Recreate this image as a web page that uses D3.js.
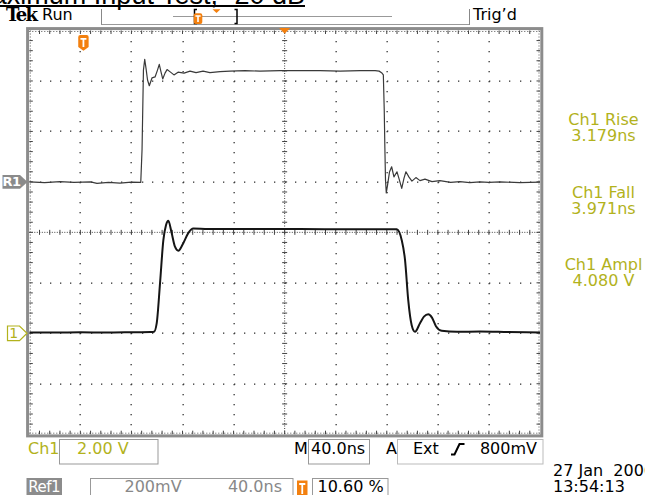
<!DOCTYPE html>
<html><head><meta charset="utf-8">
<script src="https://cdn.jsdelivr.net/npm/d3@7"></script>
<style>
html,body{margin:0;padding:0;background:#fff;overflow:hidden}
svg{display:block;font-family:"DejaVu Sans",sans-serif}
</style></head><body>
<svg id="c" width="645" height="495"></svg>
<script>
// ---- data ----
const ch1Time = [-200,-180,-160,-140,-120,-105,-102.3,-100.2,-97.6,-95.0,-92.9,-91.1,-88.5,-85.9,-83.3,-79.4,-75.5,-71.5,-60,-27.1,12.0,51.2,80,87.8,91.7,94.3,96.8,99.5,102.1,106.0,109.1,112.5,115.4,118.5,123.0,135,153,175,200];
const ch1Volts = [0.03,0.03,0.04,0.03,0.04,0.05,0.06,0.40,1.99,3.69,4.29,4.46,3.97,3.43,3.27,3.57,3.97,4.15,4.13,4.13,4.13,4.12,4.12,4.12,3.69,2.90,1.31,0.32,0.06,0.40,0.66,0.75,0.62,0.28,0.10,0.06,0.07,0.05,0.03];
const ref1Time = [-200,-188,-176,-165,-152,-147,-138,-129,-120,-112.7,
  -111.7,-110.6,-109.6,-108.6,-107.4,-106.0,-103.9,-101.5,-99.6,-98.2,
  -96.8,-95.5,-93.7,-92.1,-89.4,-86.7,-83.5,-78.8,-74.1,-69.4,
  -63.9,-58.5,-50.6,-42.8,-31.1,-19.3,-3.6,12.0,27.7,43.4,
  59.2,70.9,74.0,75.9,77.3,78.0,78.5,79.0,79.6,80.6,
  82.1,83.8,85.6,88.0,89.9,91.7,93.5,95.0,97.4,99.7,
  102.8,106.0,109.9,115.4,121.6,130,137.3,145,153.0,160,
  168.7,184.3,200];
const ref1mV = [0,-3,1,-2,0,-6,-2,-5,-1,-2,
  126,443,486,451,404,381,412,416,443,466,
  435,408,431,445,435,424,435,431,439,433,
  439,433,437,439,441,439,441,441,441,439,
  441,441,439,433,424,285,134,7,-44,-13,
  39,60,20,40,7,-26,15,40,19,3,
  17,5,11,1,5,-2,1,-3,0,-2,
  0,-3,-1];
const measLabels = ["Ch1 Rise","Ch1 Fall","Ch1 Ampl"];
const measValues = ["3.179ns","3.971ns","4.080 V"];
const nsPerDiv = 40;
const ch1VoltsPerDiv = 2, ch1OffsetDiv = -2;
const ref1mVPerDiv = 200, ref1OffsetDiv = 1;
const trigPercent = 10.60;
const ch1ScaleLabel = "2.00 V", timebaseLabel = "40.0ns", trigSource = "Ext", trigLevel = "800mV";
const ref1ScaleLabel = "200mV", ref1TimeLabel = "40.0ns", trigPosLabel = "10.60 %";
const dateLabel = "27 Jan  2006", timeLabel = "13:54:13";
const titleText = "Maximum Input Test, -20 dB";

// ---- setup ----
const svg = d3.select("#c");
const OLIVE = "#b2b21c", ORANGE = "#f3800f", GRAYF = "#8c8c8c";
const xDiv = d3.scaleLinear().domain([-5,5]).range([29.3,540]);
const yDiv = d3.scaleLinear().domain([-4,4]).range([434.2,30.5]);
const xT = t => xDiv(t/nsPerDiv);
const yCh1 = v => yDiv(v/ch1VoltsPerDiv + ch1OffsetDiv);
const yRef = mv => yDiv(mv/ref1mVPerDiv + ref1OffsetDiv);

// title (cut at top)
svg.append("text").attr("x",305).attr("y",4).attr("text-anchor","end")
  .style("font-family","'Liberation Sans',Arial,sans-serif").style("font-size","27px").text(titleText);
svg.append("line").attr("x1",0).attr("x2",305).attr("y1",6).attr("y2",6).attr("stroke","#000").attr("stroke-width",2);

// header
svg.append("text").attr("x",6).attr("y",21).style("font-family","'DejaVu Serif',serif").style("font-weight","bold")
  .style("font-size","18px").style("letter-spacing","-1.6px").text("Tek");
svg.append("text").attr("x",42).attr("y",20).style("font-size","16px").text("Run");
svg.append("line").attr("x1",101.5).attr("x2",101.5).attr("y1",9).attr("y2",25).attr("stroke","#888");
svg.append("line").attr("x1",101.5).attr("x2",469.5).attr("y1",24.5).attr("y2",24.5).attr("stroke","#999");
svg.append("line").attr("x1",469.5).attr("x2",469.5).attr("y1",9).attr("y2",25).attr("stroke","#888");
svg.append("text").attr("x",473).attr("y",20).style("font-size","16px").text("Trig\u2019d");
// record indicator
svg.append("line").attr("x1",173).attr("x2",392).attr("y1",16.5).attr("y2",16.5).attr("stroke","#999");
const recX = d3.scaleLinear().domain([0,100]).range([175,392]);
svg.append("path").attr("d","M197,9.5H194.5V23.5H197").attr("fill","none").attr("stroke","#000").attr("stroke-width",1.5);
svg.append("path").attr("d","M234.5,9.5H237V23.5H234.5").attr("fill","none").attr("stroke","#000").attr("stroke-width",1.5);
const tx = recX(trigPercent);
svg.append("rect").attr("x",tx-4.3).attr("y",13.3).attr("width",8.6).attr("height",10.7).attr("rx",2).attr("fill",ORANGE);
svg.append("path").attr("d",`M${tx-2.6},16H${tx+2.6}M${tx},16V22`).attr("stroke","#fff").attr("stroke-width",1.6);
svg.append("path").attr("d","M212.5,9.3H220.5L216.5,13Z").attr("fill",ORANGE);

// frame
svg.append("rect").attr("x",27.6).attr("y",28.6).attr("width",541.8-27.6).attr("height",435.9-28.6)
  .attr("fill","none").attr("stroke",GRAYF).attr("stroke-width",3);

const g = svg.append("g");
// grid dots
[-4,-3,-2,-1,1,2,3,4].forEach(i=>{
  d3.range(-19,20).forEach(j=>{
    g.append("rect").attr("x",Math.round(xDiv(i))-0.5).attr("y",Math.round(yDiv(j/5))).attr("width",1.3).attr("height",1.3).attr("fill","#333");
  });
});
[-3,-2,-1,1,2,3].forEach(j=>{
  d3.range(-24,25).forEach(i=>{
    g.append("rect").attr("x",Math.round(xDiv(i/5))).attr("y",Math.round(yDiv(j))-0.5).attr("width",1.3).attr("height",1.3).attr("fill","#333");
  });
});
// center crosshair
const cx = xDiv(0), cy = yDiv(0);
g.append("line").attr("x1",cx).attr("x2",cx).attr("y1",yDiv(4)).attr("y2",yDiv(-4)).attr("stroke","#444").attr("stroke-dasharray","1,1.5");
g.append("line").attr("y1",cy).attr("y2",cy).attr("x1",xDiv(-5)).attr("x2",xDiv(5)).attr("stroke","#444").attr("stroke-dasharray","1,1.5");
d3.range(-19,20).forEach(j=>{
  const y = yDiv(j/5);
  g.append("line").attr("x1",cx-2.5).attr("x2",cx+2.5).attr("y1",y).attr("y2",y).attr("stroke","#444");
});
d3.range(-24,25).forEach(i=>{
  const x = xDiv(i/5);
  g.append("line").attr("y1",cy-2.5).attr("y2",cy+2.5).attr("x1",x).attr("x2",x).attr("stroke","#444");
});
// edge ticks
const x0 = xDiv(-5), x1 = xDiv(5), y0 = yDiv(4), y1 = yDiv(-4);
g.append("line").attr("x1",x0).attr("x2",x1).attr("y1",y0+1).attr("y2",y0+1).attr("stroke","#555").attr("stroke-dasharray","1,2");
g.append("line").attr("x1",x0).attr("x2",x1).attr("y1",y1-1).attr("y2",y1-1).attr("stroke","#555").attr("stroke-dasharray","1,2");
g.append("line").attr("x1",x0+1).attr("x2",x0+1).attr("y1",y0).attr("y2",y1).attr("stroke","#555").attr("stroke-dasharray","1,2");
g.append("line").attr("x1",x1-1).attr("x2",x1-1).attr("y1",y0).attr("y2",y1).attr("stroke","#555").attr("stroke-dasharray","1,2");
d3.range(-24,25).forEach(i=>{
  const x = xDiv(i/5);
  g.append("line").attr("x1",x).attr("x2",x).attr("y1",y0).attr("y2",y0+3.5).attr("stroke","#444");
  g.append("line").attr("x1",x).attr("x2",x).attr("y1",y1-3.5).attr("y2",y1).attr("stroke","#444");
});
d3.range(-19,20).forEach(j=>{
  const y = yDiv(j/5);
  g.append("line").attr("x1",x0).attr("x2",x0+3.5).attr("y1",y).attr("y2",y).attr("stroke","#444");
  g.append("line").attr("x1",x1-3.5).attr("x2",x1).attr("y1",y).attr("y2",y).attr("stroke","#444");
});

// traces
svg.append("clipPath").attr("id","clip").append("rect").attr("x",x0).attr("y",y0).attr("width",x1-x0).attr("height",y1-y0);
const refLine = d3.line().x((d,i)=>xT(ref1Time[i])).y(d=>yRef(d)).curve(d3.curveLinear);
svg.append("path").attr("clip-path","url(#clip)").attr("d",refLine(ref1mV)).attr("fill","none")
  .attr("stroke","#3a3a3a").attr("stroke-width",1.2).attr("stroke-linejoin","round");
const chLine = d3.line().x((d,i)=>xT(ch1Time[i])).y(d=>yCh1(d)).curve(d3.curveMonotoneX);
svg.append("path").attr("clip-path","url(#clip)").attr("d",chLine(ch1Volts)).attr("fill","none")
  .attr("stroke","#151515").attr("stroke-width",2).attr("stroke-linejoin","round");

// trigger markers
const tpx = xDiv(-5 + trigPercent/10);
svg.append("path").attr("d",`M${tpx-5.2},37Q${tpx-5.2},35 ${tpx-3.2},35H${tpx+3.2}Q${tpx+5.2},35 ${tpx+5.2},37V47L${tpx},50.8L${tpx-5.2},47Z`).attr("fill",ORANGE);
svg.append("path").attr("d",`M${tpx-3},38.8H${tpx+3}M${tpx},38.8V47`).attr("stroke","#fff").attr("stroke-width",1.8);
svg.append("path").attr("d",`M${cx-5.5},28H${cx+5.5}L${cx},33.8Z`).attr("fill",ORANGE);

// channel markers
const ry = yDiv(ref1OffsetDiv);
svg.append("path").attr("d",`M2.5,${ry-6.8}H20L27.5,${ry}L20,${ry+6.8}H2.5Z`).attr("fill","#8a8a8a");
svg.append("text").attr("x",11.5).attr("y",ry+4.6).attr("text-anchor","middle").attr("fill","#fff")
  .style("font-size","13px").style("font-weight","bold").style("letter-spacing","-0.5px").text("R1");
const cy1 = yDiv(ch1OffsetDiv);
svg.append("path").attr("d",`M7.5,${cy1-7.3}H19.5L27,${cy1}L19.5,${cy1+7.3}H7.5Z`).attr("fill","#fff").attr("stroke",OLIVE).attr("stroke-width",1.2);
svg.append("text").attr("x",13.8).attr("y",cy1+5).attr("text-anchor","middle").attr("fill",OLIVE).style("font-size","14px").text("1");

// measurements
const measY = [125,198,270];
measLabels.forEach((lab,i)=>{
  svg.append("text").attr("x",603.5).attr("y",measY[i]).attr("text-anchor","middle").attr("fill",OLIVE).style("font-size","16px").text(lab);
  svg.append("text").attr("x",603.5).attr("y",measY[i]+16).attr("text-anchor","middle").attr("fill",OLIVE).style("font-size","16px").text(measValues[i]);
});

// bottom status row 1
const box = (x,y,w,h,stroke)=>svg.append("rect").attr("x",x).attr("y",y).attr("width",w).attr("height",h).attr("fill","none").attr("stroke",stroke||"#999");
svg.append("text").attr("x",28).attr("y",454).attr("fill",OLIVE).style("font-size","16px").text("Ch1");
box(59.5,439.5,98.5,24.5);
svg.append("text").attr("x",77).attr("y",454).attr("fill",OLIVE).style("font-size","16px").text(ch1ScaleLabel);
svg.append("text").attr("x",294).attr("y",454).style("font-size","16px").text("M");
box(308.5,439.5,61,24.5);
svg.append("text").attr("x",311).attr("y",454).style("font-size","16px").text(timebaseLabel);
svg.append("text").attr("x",386).attr("y",454).style("font-size","16px").text("A");
box(397.5,439.5,145.5,24.5,"#bbb");
svg.append("text").attr("x",413).attr("y",454).style("font-size","16px").text(trigSource);
svg.append("path").attr("d","M451,454.5H454.5L459.5,444H464.5").attr("fill","none").attr("stroke","#000").attr("stroke-width",2);
svg.append("text").attr("x",537).attr("y",454).attr("text-anchor","end").style("font-size","16px").text(trigLevel);

// bottom status row 2
svg.append("rect").attr("x",26.5).attr("y",478).attr("width",35.5).attr("height",20).attr("fill","#8c8c8c");
svg.append("text").attr("x",44.2).attr("y",492).attr("text-anchor","middle").attr("fill","#fff").style("font-size","15px").style("letter-spacing","-0.5px").text("Ref1");
box(90.5,478.5,202.5,22);
svg.append("text").attr("x",124.5).attr("y",492).attr("fill","#888").style("font-size","16px").text(ref1ScaleLabel);
svg.append("text").attr("x",282).attr("y",492).attr("text-anchor","end").attr("fill","#888").style("font-size","16px").text(ref1TimeLabel);
svg.append("rect").attr("x",297).attr("y",480.5).attr("width",10.5).attr("height",15.5).attr("fill",ORANGE);
svg.append("path").attr("d","M299.2,484H305.3M302.25,484V494").attr("stroke","#fff").attr("stroke-width",1.8);
box(312.5,478.5,75.5,22);
svg.append("text").attr("x",317.5).attr("y",492).style("font-size","16px").text(trigPosLabel);
svg.append("text").attr("x",553).attr("y",476).style("font-size","16px").attr("xml:space","preserve").style("white-space","pre").text(dateLabel);
svg.append("text").attr("x",553).attr("y",492).style("font-size","16px").text(timeLabel);
</script>
</body></html>
